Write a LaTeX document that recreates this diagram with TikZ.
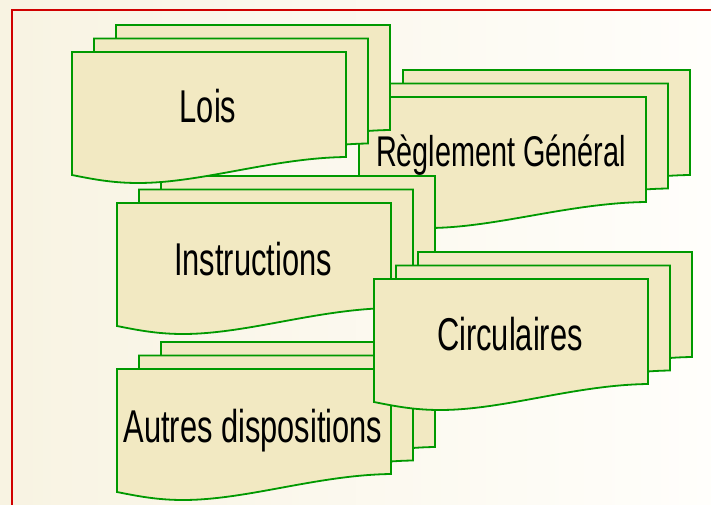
\documentclass[tikz,border=0pt]{standalone}
\usepackage{fontspec}
\newfontfamily\docfont[FakeStretch=0.67]{Liberation Sans}
\definecolor{sheetfill}{RGB}{242,233,194}
\definecolor{sheetline}{RGB}{0,153,0}
\definecolor{framered}{RGB}{208,0,0}
\definecolor{bgleft}{RGB}{248,243,226}
\definecolor{bgright}{RGB}{255,254,251}
\tikzset{
  sheet/.style={fill=sheetfill,draw=sheetline,line width=1.8pt},
  caption/.style={font=\docfont\fontsize{46}{50}\selectfont,anchor=base,inner sep=0pt}
}
% stack of three sheets: #1,#2 = top left of the front sheet, #3 = width
\newcommand\docstack[3]{%
  \foreach \k in {2,1,0}{%
    \begin{scope}[shift={(#1+22*\k,#2+13.5*\k)},xscale=#3/274]
      \filldraw[sheet] (0,0) -- (274,0) -- (274,-105)
        .. controls (200,-106) and (130,-131) .. (66,-131)
        .. controls (40,-131) and (20,-127) .. (0,-123) -- cycle;
    \end{scope}}}
\begin{document}
\begin{tikzpicture}[x=1pt,y=1pt]
\useasboundingbox (0,0) rectangle (711,-505);
\clip (0,0) rectangle (711,-505);
\shade[left color=bgleft,right color=bgright] (0,0) rectangle (711,-505);
\draw[framered,line width=2pt] (12,-10) rectangle (740,-540);
% sheets, back to front
\docstack{359}{-97}{287}
\docstack{117}{-369}{274}
\docstack{117}{-203}{274}
\docstack{72}{-52}{274}
\docstack{374}{-279}{274}
% captions
\node[caption] (lois) at (208,-123) {Lois};
\node[caption,font=\docfont\fontsize{43}{47}\selectfont] (reglement) at (501,-167) {Règlement Général};
\node[caption] (instructions) at (253,-275) {Instructions};
\node[caption] (circulaires) at (510,-350) {Circulaires};
\node[caption] (autres) at (253,-442) {Autres dispositions};
\end{tikzpicture}
\end{document}
